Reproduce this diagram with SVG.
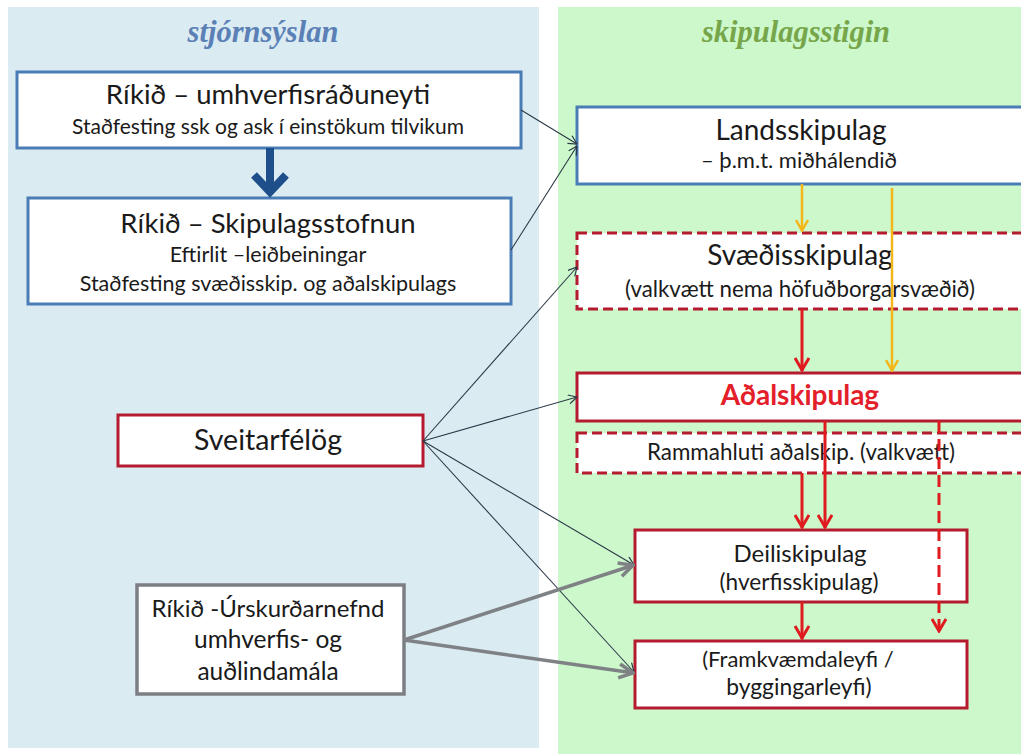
<svg xmlns="http://www.w3.org/2000/svg" width="1021" height="754" viewBox="0 0 1021 754">
<style>
.t{font-family:Lato,"Open Sans","Liberation Sans",sans-serif;fill:#1a1a1a;text-anchor:middle}
.title{font-family:"Liberation Serif",serif;font-style:italic;font-weight:bold;font-size:30.5px;text-anchor:middle}
.blue{fill:#fff;stroke:#4a7cb6;stroke-width:3}
.red{fill:#fff;stroke:#b51b2e;stroke-width:3}
.redd{fill:#fff;stroke:#b51b2e;stroke-width:3;stroke-dasharray:10,5}
.gray{fill:#fff;stroke:#7b7f84;stroke-width:3.5}
.thin{fill:none;stroke:#2b3947;stroke-width:1.1;marker-end:url(#mThin)}
.gline{fill:none;stroke:#7f8285;stroke-width:3.5;marker-end:url(#mGray)}
.yl{fill:none;stroke:#f4b619;stroke-width:2.5;marker-end:url(#mYel)}
.rl{fill:none;stroke:#e01b1f;stroke-width:3;marker-end:url(#mRed)}
</style>
<defs>
<marker id="mThin" viewBox="0 0 10 10" refX="9.5" refY="5" markerWidth="10" markerHeight="10" markerUnits="userSpaceOnUse" orient="auto"><path d="M1,0.5 L9.5,5 L1,9.5" fill="none" stroke="#2b3947" stroke-width="1.2"/></marker>
<marker id="mGray" viewBox="0 0 18 18" refX="17" refY="9" markerWidth="18" markerHeight="18" markerUnits="userSpaceOnUse" orient="auto"><path d="M2,2 L16,9 L2,16" fill="none" stroke="#7f8285" stroke-width="3.5"/></marker>
<marker id="mYel" viewBox="0 0 14 14" refX="13" refY="7" markerWidth="14" markerHeight="14" markerUnits="userSpaceOnUse" orient="auto"><path d="M2,1 L12.5,7 L2,13" fill="none" stroke="#f4b619" stroke-width="2.5"/></marker>
<marker id="mRed" viewBox="0 0 16 16" refX="15" refY="8" markerWidth="16" markerHeight="16" markerUnits="userSpaceOnUse" orient="auto"><path d="M2,1 L14,8 L2,15" fill="none" stroke="#e01b1f" stroke-width="3"/></marker>
</defs>
<rect x="0" y="0" width="1021" height="754" fill="#fff"/>
<rect x="8" y="7" width="531" height="741" fill="#daebf2"/>
<rect x="558" y="7" width="463" height="747" fill="#ccf8cc"/>
<text class="title" x="263" y="42" fill="#5a80b6">stjórnsýslan</text>
<text class="title" x="796" y="42" fill="#77a64a">skipulagsstigin</text>

<g id="node-umhverfisraduneyti">
<rect class="blue" x="17" y="72" width="504" height="76"/>
<text class="t" x="268" y="104" font-size="27.5">Ríkið – umhverfisráðuneyti</text>
<text class="t" x="268" y="134" font-size="21">Staðfesting ssk og ask í einstökum tilvikum</text>
</g>
<g id="node-skipulagsstofnun">
<rect class="blue" x="28" y="198" width="483" height="106"/>
<text class="t" x="268" y="233" font-size="27.5">Ríkið – Skipulagsstofnun</text>
<text class="t" x="268" y="262" font-size="21.5">Eftirlit –leiðbeiningar</text>
<text class="t" x="268" y="291" font-size="21.5">Staðfesting svæðisskip. og aðalskipulags</text>
</g>
<g id="node-sveitarfelog">
<rect class="red" x="118" y="415" width="305" height="51"/>
<text class="t" x="268" y="450" font-size="28.5">Sveitarfélög</text>
</g>
<g id="node-urskurdarnefnd">
<rect class="gray" x="137" y="585" width="267" height="109"/>
<text class="t" x="268" y="617" font-size="24">Ríkið -Úrskurðarnefnd</text>
<text class="t" x="268" y="648" font-size="24.5">umhverfis- og</text>
<text class="t" x="268" y="680" font-size="24.5">auðlindamála</text>
</g>
<g id="node-landsskipulag">
<rect class="blue" x="577" y="107" width="460" height="77"/>
<text class="t" x="801" y="140" font-size="28">Landsskipulag</text>
<text class="t" x="799" y="168" font-size="22">– þ.m.t. miðhálendið</text>
</g>
<g id="node-svaedisskipulag">
<rect class="redd" x="577" y="233" width="460" height="76"/>
<text class="t" x="800" y="265" font-size="28">Svæðisskipulag</text>
<text class="t" x="800" y="297" font-size="22.3">(valkvætt nema höfuðborgarsvæðið)</text>
</g>
<g id="node-adalskipulag">
<rect class="red" x="577" y="373" width="460" height="48"/>
<text class="t" x="800" y="405" font-size="28" font-weight="bold" style="fill:#e3202a">Aðalskipulag</text>
</g>
<g id="node-rammahluti">
<rect class="redd" x="577" y="433" width="460" height="40"/>
<text class="t" x="801" y="460" font-size="22.4">Rammahluti aðalskip. (valkvætt)</text>
</g>
<g id="node-deiliskipulag">
<rect class="red" x="635" y="530" width="332" height="72"/>
<text class="t" x="800" y="562" font-size="24">Deiliskipulag</text>
<text class="t" x="799" y="590" font-size="22.6">(hverfisskipulag)</text>
</g>
<g id="node-framkvaemdaleyfi">
<rect class="red" x="635" y="641" width="332" height="67"/>
<text class="t" x="798" y="667" font-size="22">(Framkvæmdaleyfi /</text>
<text class="t" x="799" y="695" font-size="22.8">byggingarleyfi)</text>
</g>

<g id="connectors">
<path d="M270,148 V190" stroke="#1f4f8a" stroke-width="8" fill="none"/>
<path d="M254,175 L270,192 L286,175" stroke="#1f4f8a" stroke-width="8" fill="none" stroke-linejoin="miter" stroke-linecap="butt"/>
<path class="thin" d="M521,110 L577,144"/>
<path class="thin" d="M511,250 L577,146"/>
<path class="thin" d="M423,441 L577,267"/>
<path class="thin" d="M423,441 L577,397"/>
<path class="thin" d="M423,441 L634,565"/>
<path class="thin" d="M423,441 L634,672"/>
<path class="gline" d="M404,640 L634,565"/>
<path class="gline" d="M404,640 L634,673"/>
<path class="yl" d="M802,184 V231"/>
<path class="yl" d="M892,188 V371"/>
<path class="rl" d="M802,309 V371"/>
<path class="rl" d="M825,421 V528"/>
<path class="rl" d="M802,473 V528"/>
<path class="rl" d="M802,602 V639"/>
<path class="rl" d="M939,421 V632" stroke-dasharray="12,6"/>
</g>
</svg>
